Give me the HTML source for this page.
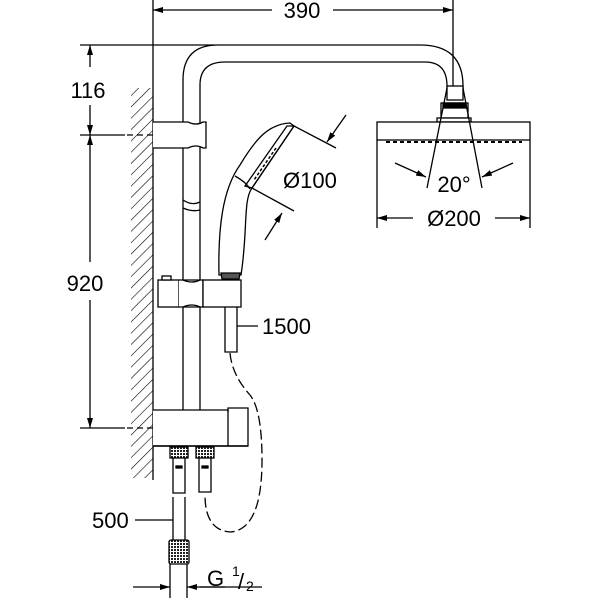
<!DOCTYPE html>
<html><head><style>body{margin:0;background:#fff}svg{display:block}text{font-family:"Liberation Sans",sans-serif;fill:#000}</style></head>
<body>
<svg width="600" height="600" viewBox="0 0 600 600" xmlns="http://www.w3.org/2000/svg">
<defs>
<pattern id="hatch" width="8" height="8" patternUnits="userSpaceOnUse" patternTransform="rotate(45)"><line x1="0" y1="0" x2="0" y2="8" stroke="#000" stroke-width="1.2"/></pattern>
<pattern id="knurl" width="3" height="3" patternUnits="userSpaceOnUse"><rect width="3" height="3" fill="#fff"/><rect width="2" height="2" fill="#222"/></pattern>
<marker id="ar" viewBox="0 0 10 6" refX="10" refY="3" markerWidth="10" markerHeight="6" orient="auto-start-reverse" markerUnits="userSpaceOnUse"><path d="M0,0 L10,3 L0,6 z" fill="#000"/></marker>
</defs>
<g fill="none" stroke="#000" stroke-width="1.3">
<!-- 390 dim -->
<line x1="153" y1="0" x2="153" y2="480"/>
<line x1="453" y1="0" x2="453" y2="88"/>
<line x1="153" y1="10" x2="272" y2="10" marker-start="url(#ar)"/>
<line x1="333" y1="10" x2="453" y2="10" marker-end="url(#ar)"/>
<!-- left dims -->
<line x1="80" y1="45" x2="215" y2="45"/>
<line x1="80" y1="135" x2="125" y2="135"/>
<line x1="127" y1="135" x2="185" y2="135" stroke-dasharray="6,4"/>
<line x1="80" y1="428" x2="125" y2="428"/>
<line x1="127" y1="428" x2="160" y2="428" stroke-dasharray="6,4"/>
<line x1="90" y1="45" x2="90" y2="67" marker-start="url(#ar)"/>
<line x1="90" y1="105" x2="90" y2="135" marker-end="url(#ar)"/>
<line x1="90" y1="135" x2="90" y2="262" marker-start="url(#ar)"/>
<line x1="90" y1="300" x2="90" y2="428" marker-end="url(#ar)"/>
<!-- wall hatch -->
<rect x="131" y="88" width="22" height="390" fill="url(#hatch)" stroke="none"/>
<!-- pipe -->
<path d="M183,420 V80 Q183,45 218,45 H420 Q463,45 463,86 V90"/>
<path d="M200,420 V85 Q200,62 225,62 H425 Q447,62 447,86 V90"/>
<rect x="447" y="86" width="16" height="14" fill="#fff"/>
<path d="M441,103 H468 V118 H441 Z" fill="#fff"/>
<rect x="443" y="103" width="23" height="5" fill="#000"/>
<rect x="437" y="118" width="34" height="4" fill="#fff"/>
<!-- head -->
<rect x="377" y="122" width="153" height="18" fill="#fff"/>
<line x1="386" y1="142" x2="522" y2="142" stroke-width="2" stroke-dasharray="4,3"/>
<line x1="447" y1="88" x2="427" y2="188"/>
<line x1="463" y1="88" x2="482" y2="188"/>
<line x1="395" y1="163" x2="426" y2="177" marker-end="url(#ar)"/>
<line x1="513" y1="163" x2="482" y2="177" marker-end="url(#ar)"/>
<line x1="377" y1="140" x2="377" y2="228"/>
<line x1="530" y1="140" x2="530" y2="228"/>
<line x1="377" y1="218" x2="413" y2="218" marker-start="url(#ar)"/>
<line x1="495" y1="218" x2="530" y2="218" marker-end="url(#ar)"/>
<!-- top bracket -->
<path d="M153,122 H188 Q196,126 203,122 H206 V148 H203 Q196,144 188,148 H153" fill="#fff"/>
<path d="M183,200 Q192,206 200,202 M183,208 Q192,212 200,210" />
<!-- handshower -->
<path d="M219,275 C218,230 222,190 240,165 C255,140 268,124 290,123 L294,126 L252,188 C243,200 248,230 241,275 Z" fill="#fff"/>
<path d="M287,126 L294,126 L252,188 L245,186 Z"/>
<path d="M276,148 L254,180" stroke-dasharray="3,2" stroke-width="1.5"/>
<path d="M235,176 Q246,182 250,189"/>
<line x1="294" y1="126" x2="336" y2="148"/>
<line x1="252" y1="188" x2="294" y2="211"/>
<line x1="346" y1="115" x2="327" y2="142" marker-end="url(#ar)"/>
<line x1="265" y1="240" x2="282" y2="213" marker-end="url(#ar)"/>
<path d="M221,273 H240 L239,279 H222 Z" fill="#555"/>
<!-- slider -->
<rect x="158" y="280" width="21" height="27" fill="#fff"/>
<rect x="162" y="276" width="9" height="4" fill="#fff"/>
<path d="M179,280 H203 V307 H179" fill="#fff"/>
<path d="M183,280 Q192,284 200,280 M183,307 Q192,303 200,307"/>
<rect x="203" y="280" width="38" height="27" fill="#fff"/>
<!-- hose to handshower -->
<path d="M225,307 V352 H237 V307"/>
<line x1="237" y1="326" x2="258" y2="326"/>
<path d="M230,353 Q232,375 250,395 Q262,410 262,460 Q262,530 230,532 Q205,530 205,495" stroke-dasharray="10,4"/>
<!-- bottom block -->
<path d="M183,410 Q192,416 200,410"/>
<path d="M153,410 H228 V446 H153" fill="#fff"/>
<path d="M228,412 V408 H248 V446 H228"/>
<path d="M153,446 H248" stroke-width="1.5"/>
<rect x="170" y="447" width="18" height="11" fill="url(#knurl)"/>
<rect x="196" y="447" width="18" height="11" fill="url(#knurl)"/>
<path d="M173,458 V493 H185 V458 M199,458 V492 H211 V458"/>
<rect x="176" y="466" width="6" height="2" fill="#000"/>
<rect x="202" y="466" width="6" height="2" fill="#000"/>
<path d="M173,497 V540 M185,497 V540"/>
<line x1="135" y1="520" x2="173" y2="520"/>
<rect x="169" y="540" width="20" height="24" rx="2" fill="url(#knurl)"/>
<line x1="170" y1="564" x2="170" y2="598"/>
<line x1="187" y1="564" x2="187" y2="598"/>
<line x1="133" y1="587" x2="170" y2="587" marker-end="url(#ar)"/>
<line x1="225" y1="587" x2="187" y2="587" marker-end="url(#ar)"/>
<line x1="200" y1="587" x2="262" y2="587"/>
</g>
<g font-size="22">
<text x="302" y="18" text-anchor="middle">390</text>
<text x="88" y="98" text-anchor="middle">116</text>
<text x="85" y="291" text-anchor="middle">920</text>
<text x="283" y="188">Ø100</text>
<text x="454" y="192" text-anchor="middle">20°</text>
<text x="454" y="226" text-anchor="middle">Ø200</text>
<text x="262" y="334">1500</text>
<text x="92" y="528">500</text>
<text x="207" y="586">G</text>
<text x="232" y="576" font-size="14">1</text>
<text x="238" y="589">/</text>
<text x="246" y="591" font-size="14">2</text>
</g>
</svg>
</body></html>
